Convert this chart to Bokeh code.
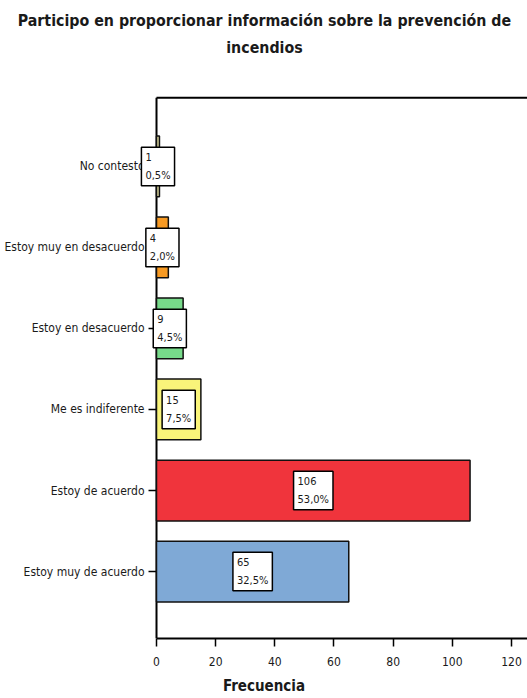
from bokeh.plotting import figure
from bokeh.models import ColumnDataSource, FixedTicker, Label
from bokeh.embed import file_html
from bokeh.resources import INLINE

title_lines = ["Participo en proporcionar información sobre la prevención de", "incendios"]
categories = ["Estoy muy de acuerdo", "Estoy de acuerdo", "Me es indiferente",
              "Estoy en desacuerdo", "Estoy muy en desacuerdo", "No contesto"]
counts = [65, 106, 15, 9, 4, 1]
percents = ["32,5%", "53,0%", "7,5%", "4,5%", "2,0%", "0,5%"]
colors = ["#7FA9D6", "#F0343C", "#F9F47A", "#77DA8A", "#F79A23", "#D8D49C"]
x_ticks = [0, 20, 40, 60, 80, 100, 120]

FONT = "DejaVu Sans Condensed"
TXT = "#1a1a1a"

X0, X1 = -52.74, 125.42      # frame spans the full canvas width
Y0, Y1 = -0.827, 7.049       # frame spans from the top of the canvas to the x axis
YTOP = 5.85                  # top border of the plotting box
TICK = 2.7                   # tick length in data units (8 px)

pos = list(range(len(categories)))
src = ColumnDataSource(dict(y=pos, right=counts, color=colors, name=categories))

p = figure(width=527, height=698, output_backend="svg", toolbar_location=None,
           x_range=(X0, X1), y_range=(Y0, Y1), y_axis_location=None,
           min_border_left=0, min_border_right=0, min_border_top=0,
           min_border_bottom=60)
p.title = None
p.outline_line_color = None
p.xgrid.visible = False
p.ygrid.visible = False

# box: left axis line and top border
p.segment(x0=[0, 0], y0=[Y0, YTOP], x1=[0, X1], y1=[YTOP, YTOP],
          line_color="black", line_width=2)
# y ticks and category labels
p.segment(x0=-TICK, y0="y", x1=0, y1="y", source=src, line_color="black", line_width=1.5)
p.text(x=0, y="y", text="name", source=src, x_offset=-12, text_align="right",
       text_baseline="middle", text_font={"value": FONT}, text_font_size="12px",
       text_color=TXT)

p.hbar(y="y", left=0, right="right", height=0.75, fill_color="color",
       line_color="#111111", line_width=1.5, source=src)

for i, (c, pc) in enumerate(zip(counts, percents)):
    p.add_layout(Label(x=c / 2, y=i, text=f"{c}\n{pc}", anchor="center",
                       text_align="left", text_font=FONT, text_font_size="11px",
                       text_color=TXT, text_line_height=1.35,
                       background_fill_color="white", border_line_color="black",
                       border_line_width=1.5, padding=4))

# title (two centered lines)
for txt, ty in zip(title_lines, [6.80, 6.47]):
    p.add_layout(Label(x=36.5, y=ty, text=txt, text_align="center",
                       text_baseline="middle", text_font=FONT,
                       text_font_size="15.8px", text_font_style="bold",
                       text_color=TXT))

p.xaxis.ticker = FixedTicker(ticks=x_ticks)
p.xaxis.bounds = (0, X1)
p.xaxis.axis_label = "Frecuencia"
p.xaxis.axis_label_text_font = FONT
p.xaxis.axis_label_text_font_size = "15px"
p.xaxis.axis_label_text_font_style = "bold"
p.xaxis.axis_label_text_color = TXT
p.xaxis.axis_label_standoff = 8
p.xaxis.axis_line_width = 2
p.xaxis.axis_line_color = "black"
p.xaxis.major_tick_line_color = "black"
p.xaxis.major_tick_line_width = 1.5
p.xaxis.major_tick_out = 8
p.xaxis.major_tick_in = 0
p.xaxis.minor_tick_line_color = None
p.xaxis.major_label_text_font = FONT
p.xaxis.major_label_text_font_size = "12px"
p.xaxis.major_label_text_color = TXT
p.xaxis.major_label_standoff = 10

open("out.html", "w").write(file_html(p, INLINE))
